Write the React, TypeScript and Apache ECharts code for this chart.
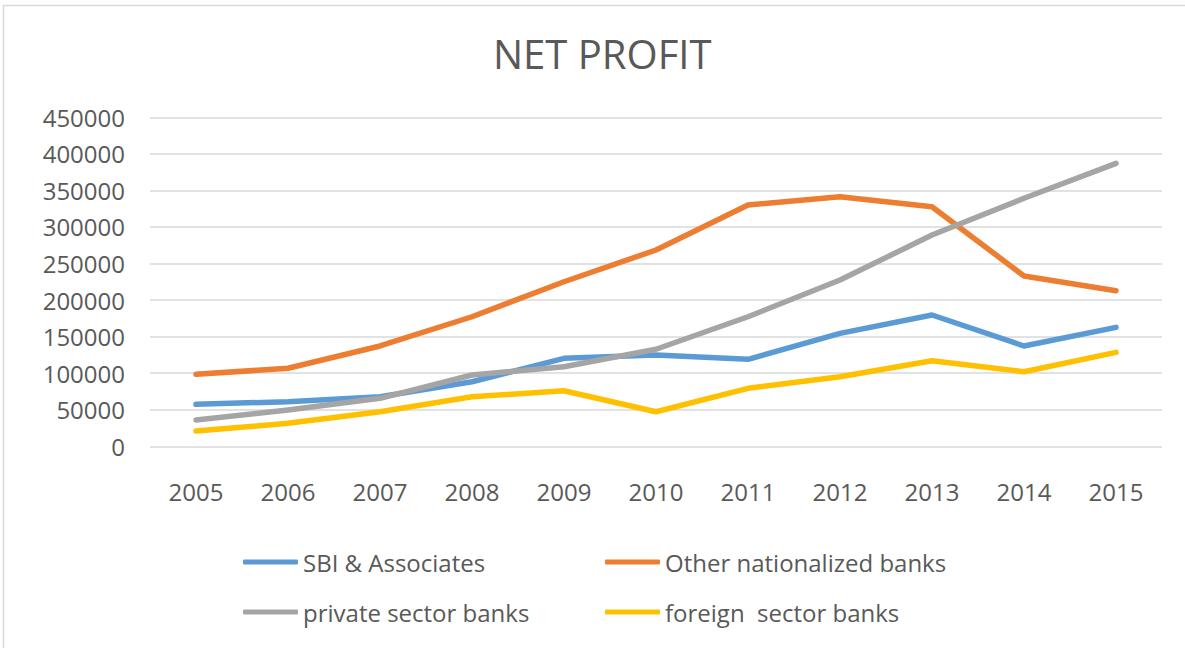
import React, { useEffect, useRef } from "react";
import * as echarts from "echarts";

const years = ["2005", "2006", "2007", "2008", "2009", "2010", "2011", "2012", "2013", "2014", "2015"];
const sbi = [57400, 61000, 67800, 88300, 120300, 124900, 119000, 154500, 179600, 137200, 162700];
const otherNationalized = [98500, 106700, 137200, 177200, 225100, 268500, 330000, 341400, 327700, 232900, 212800];
const privateSector = [36000, 49600, 65600, 97500, 108900, 132700, 177200, 227400, 289000, 339200, 387000];
const foreignSector = [20900, 31400, 47300, 67800, 76000, 47300, 79300, 95200, 117100, 102000, 128500];

const seriesNames = ["SBI & Associates", "Other nationalized banks", "private sector banks", "foreign  sector banks"];
const colors = ["#5B9BD5", "#ED7D31", "#A5A5A5", "#FFC000"];

export default function App() {
  const ref = useRef<HTMLDivElement>(null);
  useEffect(() => {
    if (!ref.current) return;
    const chart = echarts.init(ref.current, null, { renderer: "svg" });
    const font = "'Open Sans', 'Noto Sans', sans-serif";
    const values = [sbi, otherNationalized, privateSector, foreignSector];
    chart.setOption({
      animation: false,
      backgroundColor: "#ffffff",
      textStyle: { fontFamily: font },
      title: {
        text: "NET PROFIT",
        left: 488,
        top: 28,
        textStyle: { fontFamily: font, fontSize: 40, fontWeight: "normal", color: "#595959" },
      },
      graphic: [
        {
          type: "rect",
          shape: { x: 3.5, y: 5.5, width: 1190, height: 660 },
          style: { fill: "none", stroke: "#D9D9D9", lineWidth: 1.5 },
          silent: true,
        },
      ],
      grid: { left: 150, right: 23, top: 117.3, bottom: 648 - 446.3, containLabel: false },
      xAxis: {
        type: "category",
        data: years,
        boundaryGap: true,
        axisLine: { show: false },
        axisTick: { show: false },
        axisLabel: { color: "#595959", fontSize: 24, fontFamily: font, margin: 33 },
      },
      yAxis: {
        type: "value",
        min: 0,
        max: 450000,
        interval: 50000,
        axisLine: { show: false },
        axisTick: { show: false },
        axisLabel: {
          color: "#595959",
          fontSize: 24,
          fontFamily: font,
          margin: 25,
          formatter: (v: number) => String(v),
        },
        splitLine: { lineStyle: { color: "#D9D9D9", width: 1.5 } },
      },
      legend: {
        left: 238,
        top: 537,
        width: 720,
        orient: "horizontal",
        itemWidth: 55,
        itemHeight: 5,
        itemGap: 10,
        icon: "roundRect",
        data: seriesNames,
        textStyle: {
          color: "#595959",
          fontSize: 24,
          fontFamily: font,
          width: 292,
          lineHeight: 40,
          overflow: "none",
        },
      },
      series: seriesNames.map((name, i) => ({
        name,
        type: "line",
        data: values[i],
        symbol: "none",
        color: colors[i],
        lineStyle: { width: 5.5, color: colors[i], cap: "round", join: "round" },
      })),
    });
    return () => chart.dispose();
  }, []);
  return (
    <div
      ref={ref}
      style={{ position: "absolute", left: 0, top: 0, width: 1185, height: 648 }}
    />
  );
}
